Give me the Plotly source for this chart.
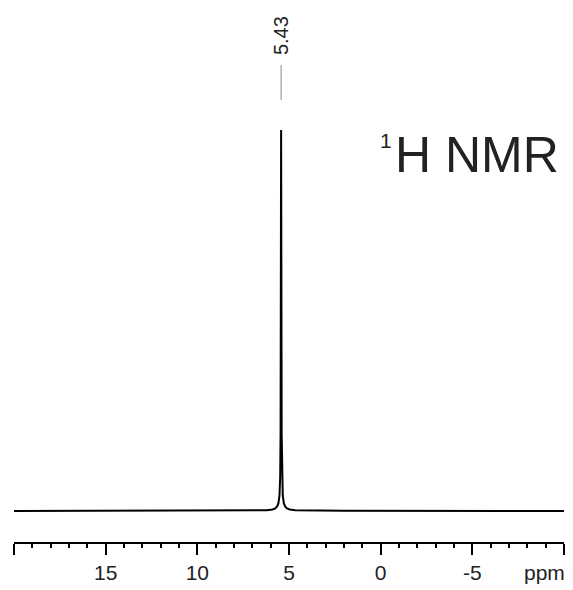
import plotly.graph_objects as go

# Spectrum points (ppm, relative intensity)
ppm = [20.0, 8.0, 6.2, 5.9, 5.75, 5.65, 5.58, 5.52, 5.48, 5.46, 5.445, 5.43,
       5.415, 5.40, 5.38, 5.34, 5.28, 5.21, 5.11, 4.96, 4.66, 2.0, -10.0]
intensity = [0.0, 0.0005, 0.002, 0.004, 0.007, 0.012, 0.02, 0.04, 0.09, 0.2, 0.6, 1.0,
             0.6, 0.2, 0.09, 0.04, 0.02, 0.012, 0.007, 0.004, 0.002, 0.0005, 0.0]

peak_ppm = 5.43
peak_label = "5.43"

tick_vals = [20, 15, 10, 5, 0, -5, -10]
tick_text = [" ", "15", "10", "5", "0", "-5", " "]

FONT = "Arial, Liberation Sans, sans-serif"

fig = go.Figure()
fig.add_trace(go.Scatter(x=ppm, y=intensity, mode="lines",
                         line=dict(color="#000000", width=2), hoverinfo="skip",
                         showlegend=False))

# page body adds an 8px offset; figure sized to fit the 573x590 window
W, H = 565, 582
ml, mr, mt, mb = 6, 9, 0, 48
PH = H - mt - mb          # plot height
PW = W - ml - mr


def py(page_y):
    """paper y from a page pixel row of the reference"""
    return (PH - (page_y - 8)) / PH


def px(page_x):
    return ((page_x - 8) - ml) / PW


fig.update_layout(
    width=W, height=H,
    margin=dict(l=ml, r=mr, t=mt, b=mb, pad=0),
    paper_bgcolor="white", plot_bgcolor="white",
    font=dict(family=FONT, size=21, color="#222222"),
    xaxis=dict(range=[20, -10], tickmode="array", tickvals=tick_vals, ticktext=tick_text,
               ticks="outside", ticklen=11, tickwidth=1.5, tickcolor="#000",
               showline=True, linecolor="#000", linewidth=2, showgrid=False, zeroline=False,
               tickfont=dict(family=FONT, size=21, color="#222"),
               minor=dict(tickmode="linear", tick0=0, dtick=1, ticks="outside",
                          ticklen=4, tickwidth=1.5, tickcolor="#000", showgrid=False)),
    yaxis=dict(range=[-0.0814, 1.3202], visible=False, showgrid=False, zeroline=False),
)

# peak label and leader line
fig.add_shape(type="line", xref="x", yref="paper", x0=peak_ppm, x1=peak_ppm,
              y0=py(100), y1=py(65), line=dict(color="#888888", width=1))
fig.add_annotation(x=peak_ppm, xref="x", y=py(36), yref="paper",
                   text=peak_label, textangle=-90, showarrow=False,
                   font=dict(family=FONT, size=20, color="#222"),
                   xanchor="center", yanchor="middle")

# title inside plot: superscript 1 + "H NMR"
fig.add_annotation(x=px(561), xref="paper", y=py(155), yref="paper",
                   text="H NMR", showarrow=False, xanchor="right", yanchor="middle",
                   font=dict(family=FONT, size=50, color="#222"))
fig.add_annotation(x=px(394), xref="paper", y=py(140), yref="paper",
                   text="1", showarrow=False, xanchor="right", yanchor="middle",
                   font=dict(family=FONT, size=21, color="#222"))

# axis unit label
fig.add_annotation(x=px(544), xref="paper", y=py(572), yref="paper",
                   text="ppm", showarrow=False, xanchor="center", yanchor="middle",
                   font=dict(family=FONT, size=21, color="#222"))

fig.write_html("out.html")
